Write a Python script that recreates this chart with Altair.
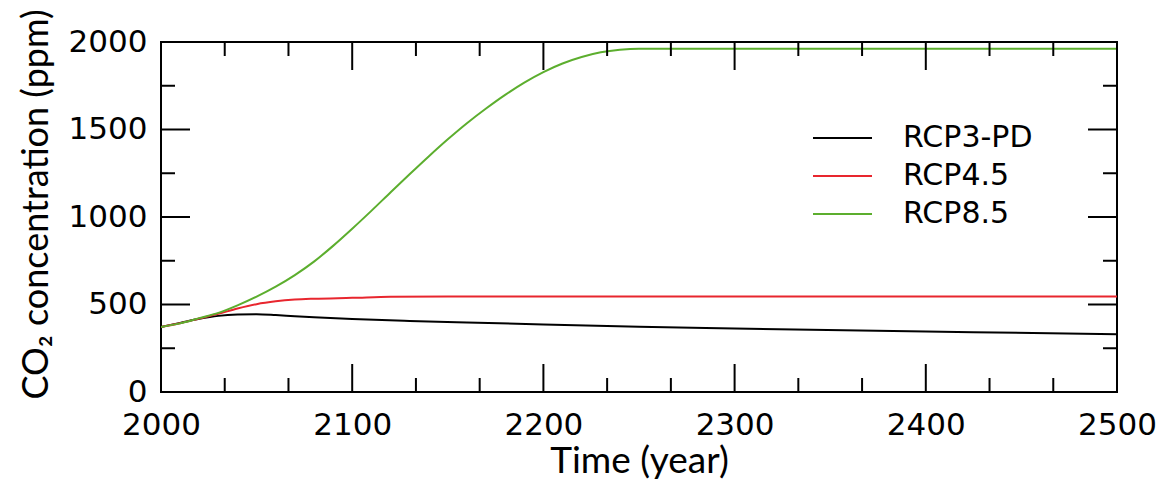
import altair as alt
import pandas as pd

# ---- data ----
names = ["RCP3-PD", "RCP4.5", "RCP8.5"]
colors = ["#000000", "#e8262e", "#5cae2e"]

black_years = [2000, 2010, 2020, 2030, 2040, 2050, 2060, 2070, 2080, 2100, 2130,
               2160, 2200, 2250, 2300, 2400, 2500]
black_ppm = [372, 395, 418, 435, 443, 445, 440, 433, 427, 417, 406,
             397, 386, 373, 363, 346, 330]

red_years = [2000, 2010, 2020, 2030, 2040, 2050, 2060, 2070, 2080, 2100, 2120, 2150, 2500]
red_ppm = [372, 393, 420, 447, 477, 502, 518, 528, 533, 538, 544, 546, 546]

green_years = [2000, 2010, 2020, 2030, 2040, 2050, 2060, 2070, 2080, 2090, 2100,
               2110, 2120, 2130, 2140, 2150, 2160, 2170, 2180, 2190, 2200,
               2210, 2220, 2230, 2240, 2250, 2500]
green_ppm = [372, 392, 422, 452, 495, 545, 602, 668, 745, 835, 933,
             1035, 1140, 1244, 1346, 1444, 1536, 1620, 1698, 1768, 1828,
             1877, 1914, 1941, 1956, 1962, 1962]

x_major = [2000, 2100, 2200, 2300, 2400, 2500]
x_minor = [2033.33, 2066.67, 2133.33, 2166.67, 2233.33, 2266.67,
           2333.33, 2366.67, 2433.33, 2466.67]
y_major = [0, 500, 1000, 1500, 2000]
y_minor = [250, 750, 1250, 1750]

FONT = "DejaVu Sans"
TFONT = "Lato"
W, H = 956, 350

rows = []
for n, ys, vs in [(names[0], black_years, black_ppm),
                  (names[1], red_years, red_ppm),
                  (names[2], green_years, green_ppm)]:
    for y, v in zip(ys, vs):
        rows.append({"scenario": n, "year": y, "ppm": v})
df = pd.DataFrame(rows)

xscale = alt.Scale(domain=[2000, 2500], nice=False, zero=False)
yscale = alt.Scale(domain=[0, 2000], nice=False)

x_axis = alt.Axis(values=x_major, format="d", tickSize=0, ticks=False, domain=False,
                  grid=False, labelFont=FONT, labelFontSize=31, labelPadding=18,
                  labelColor="black", labelFlush=False,
                  titleFont=TFONT, titleFontSize=37, titleFontWeight="normal",
                  titleColor="black", titleX=478, titleY=80,
                  titleBaseline="alphabetic", titleAlign="center")
y_axis = alt.Axis(values=y_major, format="d", tickSize=0, ticks=False, domain=False,
                  grid=False, labelFont=FONT, labelFontSize=31, labelPadding=14,
                  labelColor="black", labelFlush=False,
                  titleFont=TFONT, titleFontSize=36, titleFontWeight="normal",
                  titleColor="black", titleAngle=270, titleX=-114, titleY=162,
                  titleBaseline="alphabetic", titleAlign="center")

XT = "Time (year)"
YT = "CO₂ concentration (ppm)"

lines = alt.Chart(df).mark_line(strokeWidth=2, interpolate="monotone", clip=True).encode(
    x=alt.X("year:Q", scale=xscale, axis=x_axis, title=XT),
    y=alt.Y("ppm:Q", scale=yscale, axis=y_axis, title=YT),
    color=alt.Color("scenario:N", scale=alt.Scale(domain=names, range=colors), legend=None),
    detail="scenario:N",
)

def xticks(vals, length):
    d = pd.DataFrame({"year": vals})
    base = alt.Chart(d).mark_rule(color="black", strokeWidth=2)
    bot = base.encode(x=alt.X("year:Q", title=XT), y=alt.value(H), y2=alt.value(H - length))
    top = base.encode(x=alt.X("year:Q", title=XT), y=alt.value(0), y2=alt.value(length))
    return [bot, top]

def yticks(vals, length):
    d = pd.DataFrame({"ppm": vals})
    base = alt.Chart(d).mark_rule(color="black", strokeWidth=2)
    left = base.encode(y=alt.Y("ppm:Q", title=YT), x=alt.value(0), x2=alt.value(length))
    right = base.encode(y=alt.Y("ppm:Q", title=YT), x=alt.value(W), x2=alt.value(W - length))
    return [left, right]

tick_layers = xticks(x_major, 28) + xticks(x_minor, 14) + yticks(y_major, 29) + yticks(y_minor, 14)

legend_layers = []
for i, (n, c) in enumerate(zip(names, colors)):
    d = pd.DataFrame({"label": [n]})
    yy = 96 + 38 * i
    legend_layers.append(
        alt.Chart(d).mark_rule(strokeWidth=2, color=c).encode(
            x=alt.value(652), x2=alt.value(711), y=alt.value(yy)))
    legend_layers.append(
        alt.Chart(d).mark_text(font=FONT, fontSize=30, align="left", baseline="middle",
                               color="black").encode(
            x=alt.value(742), y=alt.value(yy), text="label:N"))

chart = alt.layer(lines, *tick_layers, *legend_layers).properties(
    width=W, height=H,
    autosize=alt.AutoSizeParams(type="none"),
    padding={"left": 161, "top": 42, "right": 50, "bottom": 87},
    background="white",
).configure_view(stroke="black", strokeWidth=2)

chart.save("out.html", embed_options={"renderer": "svg", "actions": False})
